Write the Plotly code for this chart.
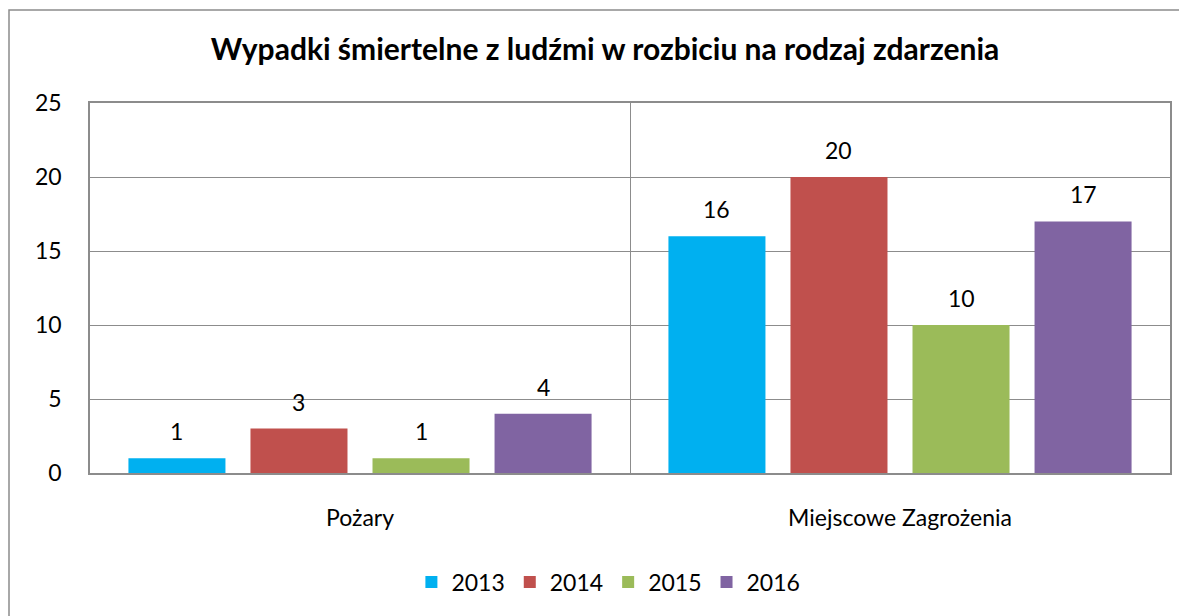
import plotly.graph_objects as go

categories = ["Pożary", "Miejscowe Zagrożenia"]
years = ["2013", "2014", "2015", "2016"]
values_2013 = [1, 16]
values_2014 = [3, 20]
values_2015 = [1, 10]
values_2016 = [4, 17]
series = [values_2013, values_2014, values_2015, values_2016]
colors = ["#00B0F0", "#C0504D", "#9BBB59", "#8064A2"]
y_ticks = [0, 5, 10, 15, 20, 25]

FONT = "Lato"
GRID = "#8C8C8C"
FS = 23

W, H = 1187, 616
ML, MR, MT, MB = 82, 25, 95, 151
BARGAP, GROUPGAP = 0.096, 0.205

fig = go.Figure()
for name, vals, col in zip(years, series, colors):
    fig.add_trace(go.Bar(
        x=categories, y=vals, name=name,
        marker=dict(color=col, line=dict(width=0)),
    ))

# data labels placed above each bar (offset in pixels derived from the group layout)
plot_w = W - ML - MR
slot_px = plot_w / len(categories) * (1 - BARGAP) / len(series)
annotations = []
for i, vals in enumerate(series):
    for cat, v in zip(categories, vals):
        annotations.append(dict(
            x=cat, y=v, xref="x", yref="y", text=str(v), showarrow=False,
            xshift=(i - (len(series) - 1) / 2) * slot_px, yshift=27,
            xanchor="center", yanchor="middle",
            font=dict(family=FONT, size=FS, color="#000000"),
        ))

fig.update_layout(
    width=W, height=H,
    margin=dict(l=ML, r=MR, t=MT, b=MB),
    paper_bgcolor="white", plot_bgcolor="white",
    barmode="group", bargap=BARGAP, bargroupgap=GROUPGAP,
    title=dict(text="<b>Wypadki śmiertelne z ludźmi w rozbiciu na rodzaj zdarzenia</b>",
               x=0.503, xanchor="center", y=0.932, yanchor="middle",
               font=dict(family=FONT, size=30, color="#000000")),
    font=dict(family=FONT, size=FS, color="#000000"),
    showlegend=True,
    legend=dict(orientation="h", x=0.48, xanchor="center", y=-0.2946, yanchor="middle",
                font=dict(family=FONT, size=FS, color="#000000"),
                itemwidth=30, traceorder="normal"),
    annotations=annotations,
    shapes=[dict(type="rect", xref="paper", yref="paper",
                 x0=-0.075, x1=1.05, y0=-0.5, y1=1.2514,
                 line=dict(color="#8C8C8C", width=1.5), fillcolor="rgba(0,0,0,0)", layer="below")],
)
fig.update_yaxes(range=[0, 25], tickvals=y_ticks, showgrid=True, gridcolor=GRID, gridwidth=1.3,
                 showline=True, linecolor=GRID, linewidth=1.5, mirror=True,
                 zeroline=False, ticks="", ticklabelstandoff=22,
                 tickfont=dict(family=FONT, size=FS, color="#000000"))
fig.update_xaxes(type="category", showgrid=True, gridcolor=GRID, gridwidth=1.3, tickson="boundaries",
                 showline=True, linecolor=GRID, linewidth=1.5, mirror=True,
                 ticks="", ticklabelstandoff=24,
                 tickfont=dict(family=FONT, size=FS, color="#000000"))

fig.write_html("out.html")
